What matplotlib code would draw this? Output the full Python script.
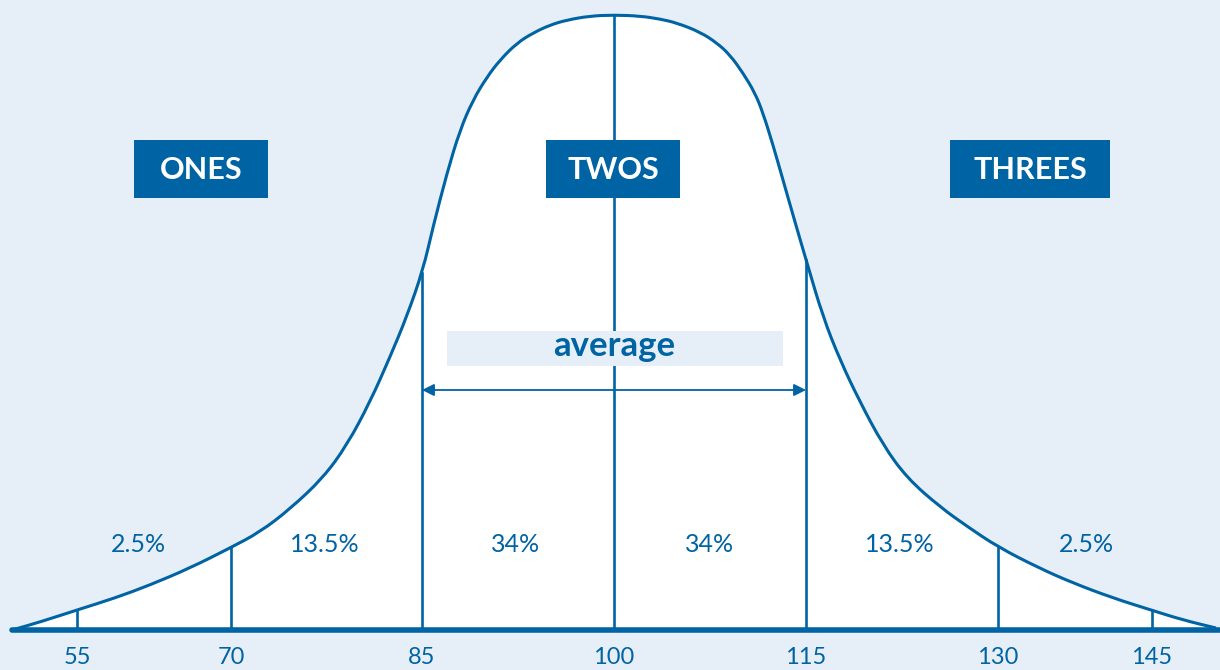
import numpy as np
import matplotlib.pyplot as plt
from matplotlib.patches import Rectangle, PathPatch
from matplotlib.path import Path

plt.rcParams['font.family'] = ['Lato', 'DejaVu Sans']

blue = '#0063a3'
bg = '#e6eff7'

# bell curve (horizontal position, pixels from top)
curve_x = [12, 40, 77, 115, 150, 190, 230, 260, 290, 323, 347, 370, 390, 407,
           423, 433, 447, 460, 473, 487, 500, 517, 533, 550, 567, 590, 614,
           640, 660, 677, 700, 717, 730, 743, 755, 763, 773, 783, 795, 807,
           823, 840, 860, 883, 907, 940, 968, 998, 1039, 1073, 1113, 1151,
           1183, 1216]
curve_y = [630, 622, 610, 598, 585, 568, 548, 532, 509, 478, 445, 402, 357, 316,
           270, 227, 173, 130, 100, 77, 60, 43, 33, 25, 20, 16, 15,
           16, 19, 23, 32, 43, 55, 73, 93, 113, 145, 180, 222, 263,
           317, 360, 402, 445, 478, 507, 527, 547, 568, 583, 598, 610,
           620, 628]

iq_ticks = [55, 70, 85, 100, 115, 130, 145]
tick_pos = [77, 231, 422, 614, 806, 998, 1152]

shares = ['2.5%', '13.5%', '34%', '34%', '13.5%', '2.5%']
share_pos = [138, 325, 516, 710, 900, 1086]

groups = ['ONES', 'TWOS', 'THREES']
group_box = [(134, 268), (546, 680), (950, 1110)]

base = 630


def smooth_path(xs, ys):
    # quadratic bezier through the midpoints of the read points
    pts = np.column_stack([xs, ys]).astype(float)
    verts = [pts[0], (pts[0] + pts[1]) / 2]
    codes = [Path.MOVETO, Path.LINETO]
    for i in range(1, len(pts) - 1):
        verts += [pts[i], (pts[i] + pts[i + 1]) / 2]
        codes += [Path.CURVE3, Path.CURVE3]
    verts.append(pts[-1])
    codes.append(Path.LINETO)
    return verts, codes


fig = plt.figure(figsize=(12.2, 6.7), dpi=100)
fig.patch.set_facecolor(bg)
ax = fig.add_axes([0, 0, 1, 1])
ax.set_facecolor(bg)
ax.set_xlim(0, 1220)
ax.set_ylim(670, 0)
ax.axis('off')

verts, codes = smooth_path(curve_x, curve_y)
fill_verts = verts + [(curve_x[-1], base), (curve_x[0], base), verts[0]]
fill_codes = codes + [Path.LINETO, Path.LINETO, Path.CLOSEPOLY]
ax.add_patch(PathPatch(Path(fill_verts, fill_codes), facecolor='white', lw=0, zorder=1))
ax.add_patch(PathPatch(Path(verts, codes), facecolor='none', edgecolor=blue,
                       lw=2.2, zorder=3))

# vertical dividers up to the curve
tops = np.interp(tick_pos, curve_x, curve_y)
for p, t in zip(tick_pos, tops):
    ax.plot([p, p], [base, t], color=blue, lw=1.9, zorder=2)

# baseline
ax.plot([12, 1220], [base, base], color=blue, lw=4, solid_capstyle='round', zorder=4)

for p, v in zip(tick_pos, iq_ticks):
    ax.text(p, 658, str(v), color=blue, fontsize=17, ha='center', va='center')

for p, s in zip(share_pos, shares):
    ax.text(p, 545, s, color=blue, fontsize=18, ha='center', va='center')

# group boxes
for (x0, x1), g in zip(group_box, groups):
    ax.add_patch(Rectangle((x0, 140), x1 - x0, 58, color=blue, lw=0, zorder=5))
    ax.text((x0 + x1) / 2, 170, g, color='white', fontsize=22, fontweight='bold',
            ha='center', va='center', zorder=6)

# average label and arrow
ax.add_patch(Rectangle((447, 331), 336, 35, color=bg, lw=0, zorder=2))
ax.text(614, 346, 'average', color=blue, fontsize=25, fontweight='bold',
        ha='center', va='center', zorder=6)
ax.annotate('', xy=(422, 390), xytext=(806, 390),
            arrowprops=dict(arrowstyle='<|-|>', color=blue, lw=1.3,
                            mutation_scale=18, shrinkA=0, shrinkB=0), zorder=4)

fig.savefig('out.png', dpi=100, facecolor=bg)
